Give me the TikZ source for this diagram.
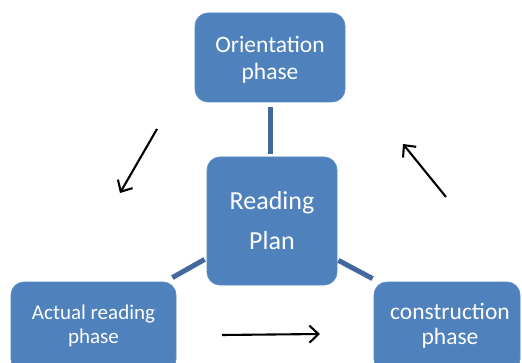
\documentclass[tikz,border=0pt]{standalone}
\usepackage{fontspec}
\setmainfont{Carlito}
\usetikzlibrary{arrows.meta,calc}
\definecolor{boxblue}{HTML}{4F81BD}
\definecolor{boxedge}{HTML}{5B8CC6}
\definecolor{connblue}{HTML}{41699B}
\begin{document}
\begin{tikzpicture}[x=1pt,y=1pt,
  phasebox/.style={draw=boxedge,line width=0.8pt,fill=boxblue,rounded corners=13pt,inner sep=0pt},
  boxtext/.style={text=white,align=center,inner sep=0pt},
  conn/.style={draw=connblue,line width=5pt},
  flowarrow/.style={draw=black,line width=2.1pt,-{Straight Barb[length=9pt,width=17pt,line width=2.1pt]}}]
\useasboundingbox (0,0) rectangle (522,362);
\clip (0,0) rectangle (522,362);
% boxes
\node[phasebox,minimum width=150pt,minimum height=89pt] (orient) at (270,304.5) {};
\node[boxtext,font=\fontsize{23.5}{27}\selectfont] (orientT) at (270,302) {Orientation\\phase};
\node[phasebox,minimum width=130pt,minimum height=128pt] (reading) at (272,141) {};
\node[boxtext,font=\fontsize{26}{40}\selectfont] (readingT) at (272,141) {Reading\\Plan};
\node[phasebox,minimum width=165pt,minimum height=90pt] (actual) at (93.5,35) {};
\node[boxtext,font=\fontsize{21}{24}\selectfont] (actualT) at (93.5,36) {Actual reading\\phase};
\node[phasebox,minimum width=146pt,minimum height=90pt] (constr) at (447,35) {};
\node[boxtext,font=\fontsize{23.5}{25}\selectfont] (constrT) at (450,36) {construction\\phase};
% connectors
\draw[conn,shorten <=5pt,shorten >=3pt] (orient.south) -- (orient.south |- reading.north);
\draw[conn] ($(actual.north east)+(-4,4)$) -- ($(reading.south west)+(-2,26)$);
\draw[conn] ($(reading.south east)+(1,25)$) -- ($(constr.north west)+(-1,3)$);
% cycle arrows
\coordinate (a1s) at (157,233);
\coordinate (a1e) at (120,169);
\coordinate (a2s) at (446,165);
\coordinate (a2e) at (403,218);
\coordinate (a3s) at (222,27);
\coordinate (a3e) at (320,28);
\draw[flowarrow] (a1s) -- (a1e);
\draw[flowarrow] (a2s) -- (a2e);
\draw[flowarrow] (a3s) -- (a3e);
\end{tikzpicture}
\end{document}
